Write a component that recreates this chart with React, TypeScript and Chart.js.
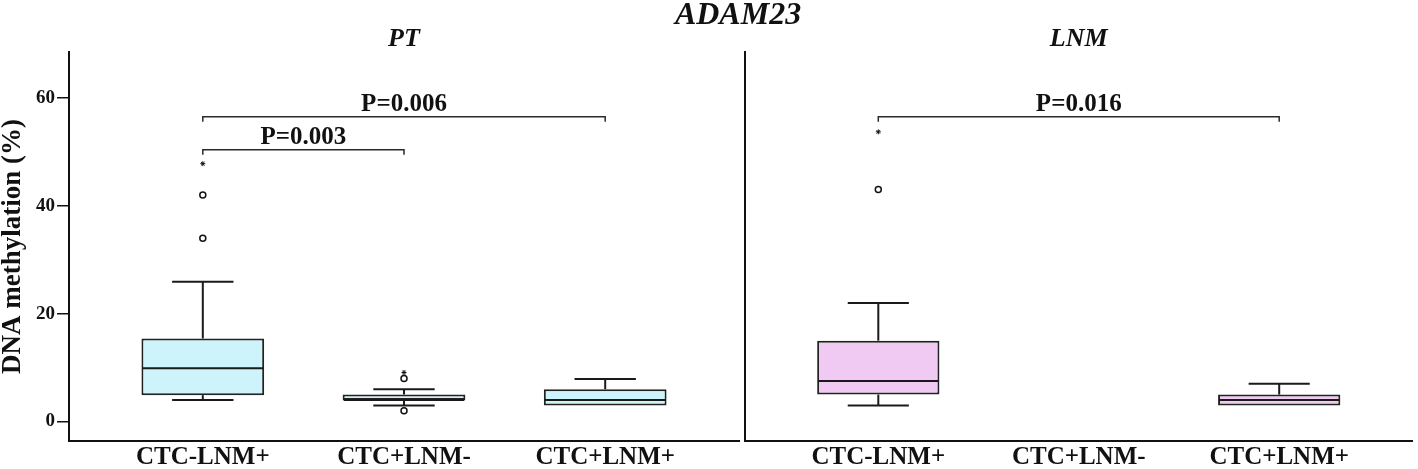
import { useEffect, useRef } from 'react';
import { Chart, registerables } from 'chart.js';

Chart.register(...registerables);

const SERIF = "'Liberation Serif', 'Times New Roman', serif";

// ---- data ----
const categories = ['CTC-LNM+', 'CTC+LNM-', 'CTC+LNM+'];
const yTicks = [0, 20, 40, 60];
const yMin = -3.6;
const yMax = 68.5;

// PT panel
const ptMin = [4.0, 3.0, 3.0];
const ptQ1 = [4.9, 4.0, 3.0];
const ptMedian = [9.9, 4.0, 4.0];
const ptQ3 = [15.4, 5.0, 6.0];
const ptMax = [25.9, 6.0, 7.9];
const ptOutlierCat = [0, 0, 1, 1];
const ptOutlierVal = [42.0, 34.0, 8.0, 2.0];
const ptExtremeCat = [0, 1];
const ptExtremeVal = [47.8, 9.1];
const ptBracketFrom = [0, 0];
const ptBracketTo = [2, 1];
const ptBracketY = [56.5, 50.4];
const ptBracketLabel = ['P=0.006', 'P=0.003'];

// LNM panel
const lnmMin = [3.0, null, 3.0];
const lnmQ1 = [5.0, null, 3.0];
const lnmMedian = [7.5, null, 4.0];
const lnmQ3 = [15.0, null, 5.0];
const lnmMax = [22.0, null, 7.0];
const lnmOutlierCat = [0];
const lnmOutlierVal = [43.0];
const lnmExtremeCat = [0];
const lnmExtremeVal = [53.7];
const lnmBracketFrom = [0];
const lnmBracketTo = [2];
const lnmBracketY = [56.5];
const lnmBracketLabel = ['P=0.016'];

const BOX_FRAC = 0.61;

type Panel = {
  min: (number | null)[];
  q1: (number | null)[];
  med: (number | null)[];
  q3: (number | null)[];
  max: (number | null)[];
  outCat: number[];
  outVal: number[];
  extCat: number[];
  extVal: number[];
  bFrom: number[];
  bTo: number[];
  bY: number[];
  bLabel: string[];
  fill: string;
  title: string;
  left: boolean;
};

function buildConfig(p: Panel): any {
  const boxes: any[] = [];
  categories.forEach((_, i) => {
    if (p.q1[i] != null && p.q3[i] != null) boxes.push({ x: i, y: [p.q1[i], p.q3[i]] });
  });

  const extras = {
    id: 'boxExtras',
    afterDatasetsDraw(chart: any) {
      const { ctx } = chart;
      const xs = chart.scales.x;
      const ys = chart.scales.y;
      ctx.save();
      ctx.strokeStyle = '#1a1a1a';
      ctx.lineWidth = 2;
      categories.forEach((_, i) => {
        const mn = p.min[i], q1 = p.q1[i], md = p.med[i], q3 = p.q3[i], mx = p.max[i];
        if (mn == null || q1 == null || md == null || q3 == null || mx == null) return;
        const cx = xs.getPixelForValue(i);
        const half = (xs.getPixelForValue(i + BOX_FRAC / 2) - xs.getPixelForValue(i - BOX_FRAC / 2)) / 2;
        const cap = half / 2;
        const line = (x1: number, y1: number, x2: number, y2: number) => {
          ctx.beginPath();
          ctx.moveTo(x1, y1);
          ctx.lineTo(x2, y2);
          ctx.stroke();
        };
        if (mx > q3) {
          line(cx, ys.getPixelForValue(q3), cx, ys.getPixelForValue(mx));
          line(cx - cap, ys.getPixelForValue(mx), cx + cap, ys.getPixelForValue(mx));
        }
        if (mn < q1) {
          line(cx, ys.getPixelForValue(q1), cx, ys.getPixelForValue(mn));
          line(cx - cap, ys.getPixelForValue(mn), cx + cap, ys.getPixelForValue(mn));
        }
        line(cx - half + 1, ys.getPixelForValue(md), cx + half - 1, ys.getPixelForValue(md));
      });

      // significance brackets
      ctx.strokeStyle = '#2a2a2a';
      ctx.lineWidth = 1.5;
      ctx.fillStyle = '#111';
      ctx.font = `bold 25px ${SERIF}`;
      ctx.textAlign = 'center';
      ctx.textBaseline = 'alphabetic';
      p.bY.forEach((yv, k) => {
        const x1 = xs.getPixelForValue(p.bFrom[k]);
        const x2 = xs.getPixelForValue(p.bTo[k]);
        const py = ys.getPixelForValue(yv);
        ctx.beginPath();
        ctx.moveTo(x1, py + 5);
        ctx.lineTo(x1, py);
        ctx.lineTo(x2, py);
        ctx.lineTo(x2, py + 5);
        ctx.stroke();
        ctx.fillText(p.bLabel[k], (x1 + x2) / 2, py - 6);
      });

      // titles
      const ca = chart.chartArea;
      ctx.font = `italic bold 26px ${SERIF}`;
      ctx.fillText(p.title, (ca.left + ca.right) / 2, 46);
      if (p.left) {
        ctx.font = `italic bold 32px ${SERIF}`;
        ctx.fillText('ADAM23', 738, 24);
      }
      ctx.restore();
    },
  };

  const yScale: any = {
    type: 'linear',
    min: yMin,
    max: yMax,
    afterBuildTicks: (s: any) => {
      s.ticks = yTicks.map((v) => ({ value: v }));
    },
    afterFit: (s: any) => {
      s.width = p.left ? 69 : 745;
    },
    ticks: {
      display: p.left,
      color: '#111',
      font: { family: SERIF, size: 19, weight: 'bold' },
      padding: 2,
    },
    grid: {
      display: p.left,
      drawOnChartArea: false,
      drawTicks: true,
      tickLength: 12,
      color: '#111',
      lineWidth: 1.5,
    },
    border: { display: true, color: '#111', width: 2 },
    title: {
      display: p.left,
      text: 'DNA methylation (%)',
      color: '#111',
      font: { family: SERIF, size: 27, weight: 'bold', lineHeight: 1 },
      padding: 0,
    },
  };

  return {
    type: 'bar',
    data: {
      datasets: [
        {
          type: 'bar',
          data: boxes,
          backgroundColor: p.fill,
          borderColor: '#222',
          borderWidth: 2,
          borderSkipped: false,
          barPercentage: BOX_FRAC,
          categoryPercentage: 1,
          order: 3,
        },
        {
          type: 'scatter',
          data: p.outCat.map((c, i) => ({ x: c, y: p.outVal[i] })),
          pointStyle: 'circle',
          pointRadius: 3,
          borderWidth: 1.5,
          borderColor: '#111',
          backgroundColor: '#fff',
          order: 1,
        },
        {
          type: 'scatter',
          data: p.extCat.map((c, i) => ({ x: c, y: p.extVal[i] })),
          pointStyle: 'star',
          pointRadius: 2.5,
          borderWidth: 1,
          borderColor: '#111',
          backgroundColor: '#111',
          order: 1,
        },
      ],
    },
    options: {
      responsive: false,
      animation: false,
      events: [],
      layout: {
        padding: p.left
          ? { top: 52, left: 0, right: 1418 - 739, bottom: 0 }
          : { top: 52, left: 0, right: 0, bottom: 0 },
      },
      plugins: {
        legend: { display: false },
        tooltip: { enabled: false },
      },
      scales: {
        x: {
          type: 'linear',
          offset: false,
          min: -0.665,
          max: 2.665,
          afterBuildTicks: (s: any) => {
            s.ticks = categories.map((_, i) => ({ value: i }));
          },
          afterFit: (s: any) => {
            s.height = 28;
          },
          ticks: {
            autoSkip: false,
            maxRotation: 0,
            color: '#111',
            padding: 2,
            font: { family: SERIF, size: 25, weight: 'bold' },
            callback: (_v: any, i: number) => categories[i],
          },
          grid: { display: false, drawTicks: false, offset: false },
          border: { display: true, color: '#111', width: 2 },
        },
        y: yScale,
      },
    },
    plugins: [extras],
  };
}

export default function App() {
  const leftRef = useRef<HTMLCanvasElement>(null);
  const rightRef = useRef<HTMLCanvasElement>(null);

  useEffect(() => {
    const a = new Chart(
      leftRef.current as HTMLCanvasElement,
      buildConfig({
        min: ptMin, q1: ptQ1, med: ptMedian, q3: ptQ3, max: ptMax,
        outCat: ptOutlierCat, outVal: ptOutlierVal,
        extCat: ptExtremeCat, extVal: ptExtremeVal,
        bFrom: ptBracketFrom, bTo: ptBracketTo, bY: ptBracketY, bLabel: ptBracketLabel,
        fill: '#ccf4fa', title: 'PT', left: true,
      })
    );
    const b = new Chart(
      rightRef.current as HTMLCanvasElement,
      buildConfig({
        min: lnmMin, q1: lnmQ1, med: lnmMedian, q3: lnmQ3, max: lnmMax,
        outCat: lnmOutlierCat, outVal: lnmOutlierVal,
        extCat: lnmExtremeCat, extVal: lnmExtremeVal,
        bFrom: lnmBracketFrom, bTo: lnmBracketTo, bY: lnmBracketY, bLabel: lnmBracketLabel,
        fill: '#f0caf3', title: 'LNM', left: false,
      })
    );
    return () => {
      a.destroy();
      b.destroy();
    };
  }, []);

  return (
    <div style={{ position: 'absolute', left: 0, top: 0, width: 1418, height: 469, background: '#fff' }}>
      <canvas ref={leftRef} width={1418} height={469} style={{ position: 'absolute', left: 0, top: 0 }} />
      <canvas ref={rightRef} width={1418} height={469} style={{ position: 'absolute', left: 0, top: 0 }} />
    </div>
  );
}
